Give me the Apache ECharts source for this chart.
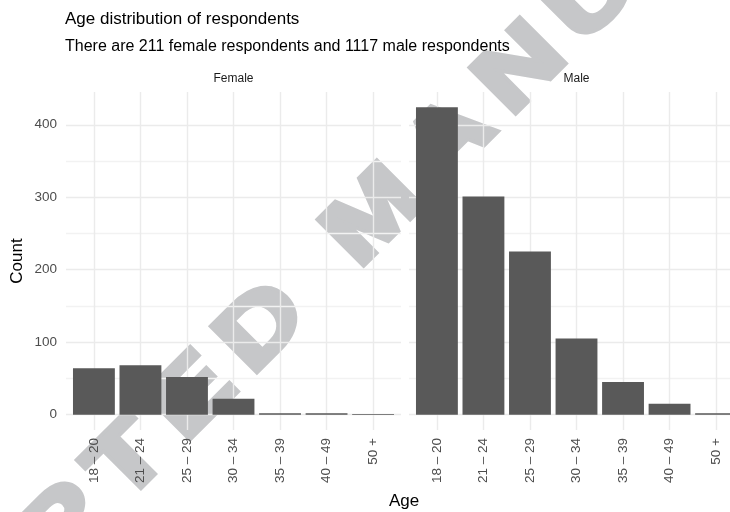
<!DOCTYPE html>
<html>
<head>
<meta charset="utf-8">
<script src="https://cdn.jsdelivr.net/npm/echarts@6/dist/echarts.min.js"></script>
<style>html,body{margin:0;padding:0;background:#fff}#c{width:730px;height:512px}</style>
</head>
<body>
<div id="c"></div>
<script>
// ---- data ----
const ageGroups = ['18 \u2013 20', '21 \u2013 24', '25 \u2013 29', '30 \u2013 34', '35 \u2013 39', '40 \u2013 49', '50 +'];
const femaleCounts = [64, 68, 52, 22, 2, 2, 1];
const maleCounts = [424, 301, 225, 105, 45, 15, 2];
const panels = ['Female', 'Male'];
const yTickLabels = [0, 100, 200, 300, 400];
const titleText = 'Age distribution of respondents';
const subtitleText = 'There are 211 female respondents and 1117 male respondents';
const watermark = 'ACCEPTED MANUSCRIPT';

const FONT = '"Liberation Sans", Arial, Helvetica, sans-serif';
const chart = echarts.init(document.getElementById('c'), null, {renderer: 'canvas'});

const allMax = Math.max(...femaleCounts, ...maleCounts);
const yMin = -0.05 * allMax, yMax = allMax * 1.05;

const grids = [
  {left: 66, top: 92, width: 335, bottom: 82, outerBoundsMode: 'none', containLabel: false},
  {left: 409, top: 92, width: 335, bottom: 82, outerBoundsMode: 'none', containLabel: false}
];

function xAxis(i) {
  return {
    type: 'value', gridIndex: i, min: -0.6, max: ageGroups.length - 0.4, splitNumber: 7,
    axisLine: {show: false}, axisTick: {show: false},
    axisLabel: {
      rotate: 90, margin: 8, color: '#4D4D4D', fontSize: 13.5, fontFamily: FONT,
      showMinLabel: false, showMaxLabel: false, hideOverlap: false,
      formatter: v => (Math.abs(v - Math.round(v)) < 1e-6 && ageGroups[Math.round(v)] !== undefined) ? ageGroups[Math.round(v)] : ''
    },
    splitLine: {show: true, showMinLine: false, showMaxLine: false, lineStyle: {color: '#EBEBEB', width: 1.4}}
  };
}
function yAxis(i) {
  return {
    type: 'value', gridIndex: i, min: yMin, max: yMax, splitNumber: 10,
    axisLine: {show: false}, axisTick: {show: false},
    axisLabel: {
      show: i === 0, margin: 9, color: '#4D4D4D', fontSize: 13.5, fontFamily: FONT,
      showMinLabel: false, showMaxLabel: false,
      formatter: v => yTickLabels.indexOf(Math.round(v)) >= 0 && Math.abs(v - Math.round(v)) < 1e-6 ? String(Math.round(v)) : ''
    },
    name: i === 0 ? 'Count' : '', nameLocation: 'middle', nameGap: 40, nameRotate: 90,
    nameTextStyle: {color: '#000', fontSize: 17, fontFamily: FONT},
    splitLine: {show: true, showMinLine: false, showMaxLine: false,
      lineStyle: {color: ['#EBEBEB', '#F2F2F2'], width: 1.3}}
  };
}

// watermark letters, laid out along a 45 degree line using real glyph advances
const WM_SIZE = 92, WM_SX = 1.25, WM_TRACK = 18, WM_ANCHOR_INDEX = 7, WM_ANCHOR = [234, 358];
const wmFont = 'bold ' + WM_SIZE + 'px ' + FONT;
const mctx = document.createElement('canvas').getContext('2d');
mctx.font = wmFont;
const chars = watermark.split('');
const offs = [];
let acc = 0;
chars.forEach(ch => { offs.push(acc); acc += mctx.measureText(ch).width * WM_SX + WM_TRACK; });
const c45 = Math.SQRT1_2;
const wmGraphics = chars.map((ch, i) => {
  const d = offs[i] - offs[WM_ANCHOR_INDEX];
  return {
    type: 'text', z: -10, silent: true,
    x: WM_ANCHOR[0] + d * c45, y: WM_ANCHOR[1] - d * c45, rotation: Math.PI / 4, scaleX: WM_SX,
    style: {text: ch, fill: '#C6C7C9', stroke: '#C6C7C9', lineWidth: 6, font: wmFont, align: 'left', verticalAlign: 'middle'}
  };
});

chart.setOption({
  backgroundColor: '#fff',
  animation: false,
  title: [
    {text: titleText, left: 65, top: 11, padding: 0, textStyle: {color: '#000', fontSize: 17, fontWeight: 'normal', fontFamily: FONT}},
    {text: subtitleText, left: 65, top: 39, padding: 0, textStyle: {color: '#000', fontSize: 16, fontWeight: 'normal', fontFamily: FONT}}
  ],
  grid: grids,
  xAxis: [xAxis(0), xAxis(1)],
  yAxis: [yAxis(0), yAxis(1)],
  graphic: wmGraphics.concat([
    {type: 'text', x: 233.5, y: 79, style: {text: panels[0], fill: '#1A1A1A', font: '12px ' + FONT, align: 'center', verticalAlign: 'middle'}},
    {type: 'text', x: 576.5, y: 79, style: {text: panels[1], fill: '#1A1A1A', font: '12px ' + FONT, align: 'center', verticalAlign: 'middle'}},
    {type: 'text', x: 404, y: 501, style: {text: 'Age', fill: '#000', font: '17px ' + FONT, align: 'center', verticalAlign: 'middle'}}
  ]),
  series: [
    {type: 'bar', xAxisIndex: 0, yAxisIndex: 0, barWidth: '90%', itemStyle: {color: '#595959'},
      data: femaleCounts.map((v, i) => [i, v])},
    {type: 'bar', xAxisIndex: 1, yAxisIndex: 1, barWidth: '90%', itemStyle: {color: '#595959'},
      data: maleCounts.map((v, i) => [i, v])}
  ]
});
</script>
</body>
</html>
